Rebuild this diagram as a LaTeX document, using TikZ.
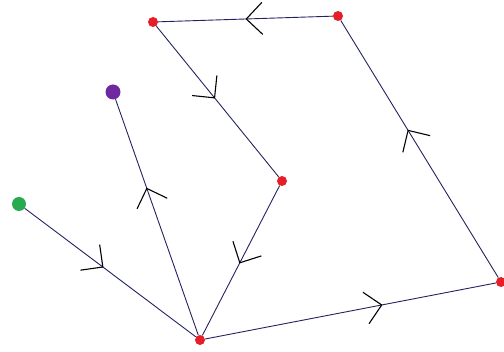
\documentclass[tikz,border=0pt]{standalone}
\usepackage{xcolor}
\usepackage{tikz}
\usetikzlibrary{arrows.meta,decorations.markings}

\definecolor{edgeblue}{RGB}{35,35,95}
\definecolor{dotred}{RGB}{230,30,40}
\definecolor{dotpurple}{RGB}{110,40,160}
\definecolor{dotgreen}{RGB}{40,170,80}

\tikzset{
  dot/.style={circle, fill=#1, inner sep=0pt, minimum size=10pt},
  edge/.style={draw=edgeblue, line width=0.9pt},
  flow/.style={postaction={decorate, decoration={markings,
      mark=at position #1 with {\arrow[black]{Straight Barb[length=16pt, width=32pt, line width=1.1pt]}}}}}
}

\begin{document}
\begin{tikzpicture}[x=1pt, y=-1pt]
\useasboundingbox (0,0) rectangle (504,352);

% Vertices
\node[dot=dotred] (tl) at (153,22) {};
\node[dot=dotred] (tr) at (338,16) {};
\node[dot=dotred] (mid) at (282,181) {};
\node[dot=dotred] (bot) at (200,340) {};
\node[dot=dotred] (rt) at (501,282) {};

% Loose ends
\node[dot=dotpurple, minimum size=15pt] (purple) at (113,92) {};
\node[dot=dotgreen, minimum size=14pt] (green) at (19,204) {};

% Loop
\draw[edge, flow=0.61] (bot) -- (rt);
\draw[edge, flow=0.575] (rt) -- (tr);
\draw[edge, flow=0.5] (tr) -- (tl);
\draw[edge, flow=0.48] (tl) -- (mid);
\draw[edge, flow=0.52] (mid) -- (bot);

% In and out
\draw[edge, flow=0.46] (green) -- (bot);
\draw[edge, flow=0.625] (bot) -- (purple);
\end{tikzpicture}
\end{document}
